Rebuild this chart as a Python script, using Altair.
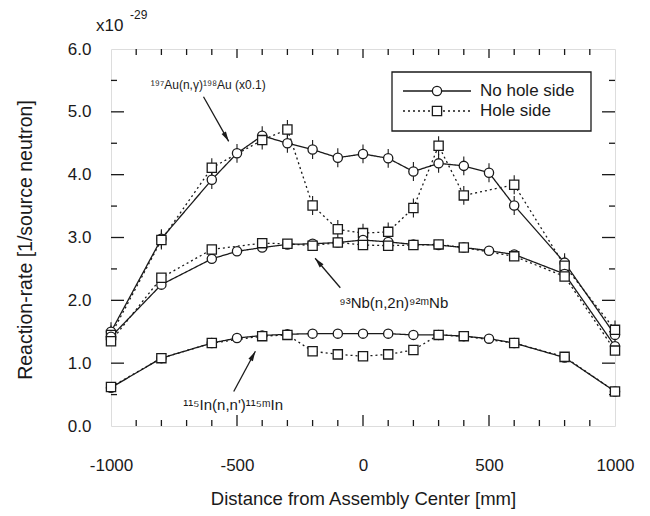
import math
import altair as alt
import pandas as pd

# ---------------- data ----------------
pos_nohole = [-1000, -800, -600, -500, -400, -300, -200, -100, 0, 100, 200, 300, 400, 500, 600, 800, 1000]
pos_hole = [-1000, -800, -600, -400, -300, -200, -100, 0, 100, 200, 300, 400, 600, 800, 1000]

au_nohole = [1.50, 2.98, 3.92, 4.34, 4.62, 4.50, 4.40, 4.27, 4.33, 4.26, 4.05, 4.18, 4.14, 4.03, 3.51, 2.60, 1.45]
au_hole = [1.45, 2.96, 4.11, 4.55, 4.72, 3.51, 3.13, 3.07, 3.09, 3.47, 4.46, 3.67, 3.84, 2.55, 1.53]
nb_nohole = [1.42, 2.25, 2.66, 2.78, 2.84, 2.89, 2.90, 2.92, 2.96, 2.93, 2.89, 2.88, 2.84, 2.79, 2.73, 2.42, 1.27]
nb_hole = [1.35, 2.36, 2.81, 2.91, 2.90, 2.87, 2.92, 2.88, 2.87, 2.88, 2.89, 2.84, 2.70, 2.38, 1.20]
in_nohole = [0.61, 1.08, 1.32, 1.40, 1.44, 1.46, 1.47, 1.47, 1.47, 1.47, 1.45, 1.45, 1.43, 1.39, 1.32, 1.09, 0.55]
in_hole = [0.62, 1.08, 1.32, 1.43, 1.45, 1.19, 1.14, 1.11, 1.14, 1.21, 1.45, 1.43, 1.32, 1.10, 0.55]

au_nohole_err = [0.15, 0.15, 0.15, 0.15, 0.15, 0.15, 0.15, 0.15, 0.15, 0.15, 0.15, 0.15, 0.15, 0.15, 0.15, 0.15, 0.15]
au_hole_err = [0.15, 0.15, 0.15, 0.15, 0.15, 0.15, 0.15, 0.15, 0.15, 0.15, 0.15, 0.15, 0.15, 0.15, 0.15]

sides = ["No hole side", "Hole side"]

x_tick_labels = [-1000, -500, 0, 500, 1000]
y_tick_labels = [0, 1, 2, 3, 4, 5, 6]
x_major_ticks = [-500, 0, 500]
x_minor_ticks = [-900, -800, -700, -600, -400, -300, -200, -100, 100, 200, 300, 400, 600, 700, 800, 900]
y_major_ticks = [1, 2, 3, 4, 5]
y_minor_ticks = [0.5, 1.5, 2.5, 3.5, 4.5, 5.5]

ann_text = ["¹⁹⁷Au(n,γ)¹⁹⁸Au (x0.1)", "⁹³Nb(n,2n)⁹²ᵐNb", "¹¹⁵In(n,n')¹¹⁵ᵐIn"]
ann_x = [-614, 122, -515]
ann_y = [5.43, 1.96, 0.34]
ann_size = [12, 15, 15]

arrow_x1 = [-633, -90, -513]
arrow_y1 = [5.24, 2.20, 0.55]
arrow_x2 = [-533, -190, -427]
arrow_y2 = [4.53, 2.67, 1.19]

# ---------------- layout ----------------
W, H = 504, 377
PL, PT = 111, 49
FONT = "Liberation Sans"
INK = "#1a1a1a"

xs = alt.Scale(domain=[-1000, 1000], nice=False, zero=False)
ys = alt.Scale(domain=[0, 6], nice=False, zero=False)

rows = []
series = {
    ("Au", "No hole side"): (pos_nohole, au_nohole),
    ("Au", "Hole side"): (pos_hole, au_hole),
    ("Nb", "No hole side"): (pos_nohole, nb_nohole),
    ("Nb", "Hole side"): (pos_hole, nb_hole),
    ("In", "No hole side"): (pos_nohole, in_nohole),
    ("In", "Hole side"): (pos_hole, in_hole),
}
for (r, s), (px, vals) in series.items():
    for p, v in zip(px, vals):
        rows.append({"pos": p, "val": v, "reaction": r, "side": s, "series": r + "|" + s})
df = pd.DataFrame(rows)

err_rows = []
for p, v, e in zip(pos_nohole, au_nohole, au_nohole_err):
    err_rows.append({"pos": p, "lo": v - e, "hi": v + e})
for p, v, e in zip(pos_hole, au_hole, au_hole_err):
    err_rows.append({"pos": p, "lo": v - e, "hi": v + e})
df_err = pd.DataFrame(err_rows)

X = alt.X("pos:Q", scale=xs,
          axis=alt.Axis(values=x_tick_labels, ticks=False, domain=False, grid=False,
                        labelExpr="'' + datum.value", labelFontSize=17, labelFont=FONT,
                        labelColor=INK, labelPadding=31, labelFlush=False,
                        title="Distance from Assembly Center [mm]", titleFont=FONT,
                        titleFontSize=18.5, titleFontWeight="normal", titleColor=INK,
                        titleX=W / 2, titleY=72, titleAlign="center", titleBaseline="middle"))
Y = alt.Y("val:Q", scale=ys,
          axis=alt.Axis(values=y_tick_labels, ticks=False, domain=False, grid=False,
                        format=".1f", labelFontSize=17, labelFont=FONT, labelColor=INK,
                        labelPadding=20, labelFlush=False,
                        title="Reaction-rate [1/source neutron]", titleFont=FONT,
                        titleFontSize=19.5, titleFontWeight="normal", titleColor=INK,
                        titleX=-86, titleY=H / 2 + 2, titleAngle=270,
                        titleAlign="center", titleBaseline="middle"))

dash_scale = alt.Scale(domain=sides, range=[[1, 0], [2, 3]])
shape_scale = alt.Scale(domain=sides, range=["circle", "square"])

lines = alt.Chart(df).mark_line(color=INK, strokeWidth=1.3).encode(
    x=X, y=Y, detail="series:N",
    strokeDash=alt.StrokeDash("side:N", scale=dash_scale, legend=None),
    order="pos:Q",
)
errs = alt.Chart(df_err).mark_rule(color=INK, strokeWidth=1.1).encode(
    x=alt.X("pos:Q", scale=xs), y=alt.Y("lo:Q", scale=ys), y2="hi:Q")
points = alt.Chart(df).mark_point(filled=True, fill="white", stroke=INK, strokeWidth=1.3,
                                  size=85, opacity=1).encode(
    x=alt.X("pos:Q", scale=xs), y=alt.Y("val:Q", scale=ys),
    shape=alt.Shape("side:N", scale=shape_scale, legend=None),
)

# inward ticks
def xticks(vals, length, top):
    d = pd.DataFrame({"t": vals})
    if top:
        enc = dict(y=alt.value(0), y2=alt.value(length))
    else:
        enc = dict(y=alt.value(H), y2=alt.value(H - length))
    return alt.Chart(d).mark_rule(color=INK, strokeWidth=1.3).encode(
        x=alt.X("t:Q", scale=xs), **enc)

def yticks(vals, length, right):
    d = pd.DataFrame({"t": vals})
    if right:
        enc = dict(x=alt.value(W), x2=alt.value(W - length))
    else:
        enc = dict(x=alt.value(0), x2=alt.value(length))
    return alt.Chart(d).mark_rule(color=INK, strokeWidth=1.3).encode(
        y=alt.Y("t:Q", scale=ys), **enc)

ticks = [
    xticks(x_major_ticks, 11, False), xticks(x_minor_ticks, 6, False),
    xticks(x_major_ticks, 9, True), xticks(x_minor_ticks, 6, True),
    yticks(y_major_ticks, 13, False), yticks(y_minor_ticks, 6, False),
    yticks(y_major_ticks, 13, True), yticks(y_minor_ticks, 6, True),
]

# annotations
df_ann = pd.DataFrame({"text": ann_text, "x": ann_x, "y": ann_y, "fs": ann_size})
ann = alt.Chart(df_ann).mark_text(font=FONT, color=INK, align="center", baseline="middle").encode(
    x=alt.X("x:Q", scale=xs), y=alt.Y("y:Q", scale=ys), text="text:N",
    size=alt.Size("fs:Q", scale=None, legend=None))

pxu = W / 2000.0
pyu = H / 6.0
angles = []
for a, b, c, d in zip(arrow_x1, arrow_y1, arrow_x2, arrow_y2):
    ang = math.degrees(math.atan2((c - a) * pxu, (d - b) * pyu)) % 360
    angles.append(ang)
df_arr = pd.DataFrame({"x1": arrow_x1, "y1": arrow_y1, "x2": arrow_x2, "y2": arrow_y2, "ang": angles})
arr_lines = alt.Chart(df_arr).mark_rule(color=INK, strokeWidth=1.3).encode(
    x=alt.X("x1:Q", scale=xs), y=alt.Y("y1:Q", scale=ys), x2="x2:Q", y2="y2:Q")
arr_heads = alt.Chart(df_arr).mark_point(shape="M0,0 L0.5,2 L-0.5,2 Z", filled=True,
                                         color=INK, size=100, opacity=1).encode(
    x=alt.X("x2:Q", scale=xs), y=alt.Y("y2:Q", scale=ys),
    angle=alt.Angle("ang:Q", scale=None))

# exponent
one = pd.DataFrame({"k": [0]})
exp_base = alt.Chart(one).mark_text(text="x10", font=FONT, fontSize=17, color=INK,
                                    align="left", baseline="middle").encode(
    x=alt.value(-15), y=alt.value(-23))
exp_pow = alt.Chart(one).mark_text(text="-29", font=FONT, fontSize=12, color=INK,
                                   align="left", baseline="middle").encode(
    x=alt.value(19), y=alt.value(-34))

# legend (drawn by hand)
LX0, LX1, LY0, LY1 = 281, 480, 23, 82
leg_box = alt.Chart(one).mark_rect(fill="white", stroke=INK, strokeWidth=1.3).encode(
    x=alt.value(LX0), x2=alt.value(LX1), y=alt.value(LY0), y2=alt.value(LY1))
leg_layers = []
for i, s in enumerate(sides):
    yy = 42 + i * 20
    d1 = pd.DataFrame({"side": [s]})
    leg_layers.append(alt.Chart(d1).mark_rule(color=INK, strokeWidth=1.3,
                                              strokeDash=[1, 0] if i == 0 else [2, 3]).encode(
        x=alt.value(292), x2=alt.value(360), y=alt.value(yy)))
    leg_layers.append(alt.Chart(d1).mark_point(filled=True, fill="white", stroke=INK,
                                               strokeWidth=1.3, size=85, opacity=1,
                                               shape="circle" if i == 0 else "square").encode(
        x=alt.value(326), y=alt.value(yy)))
    leg_layers.append(alt.Chart(d1).mark_text(font=FONT, fontSize=17, color=INK,
                                              align="left", baseline="middle").encode(
        x=alt.value(369), y=alt.value(yy), text="side:N"))

chart = alt.layer(
    *ticks, lines, errs, points, arr_lines, arr_heads, ann, exp_base, exp_pow,
    leg_box, *leg_layers
).properties(
    width=W, height=H,
    padding={"left": PL, "top": PT, "right": 650 - PL - W, "bottom": 516 - PT - H},
    autosize=alt.AutoSizeParams(type="none"),
).configure_view(
    stroke=INK, strokeWidth=1.5
).configure(background="white")

chart.save("out.html", embed_options={"renderer": "svg", "actions": False})
